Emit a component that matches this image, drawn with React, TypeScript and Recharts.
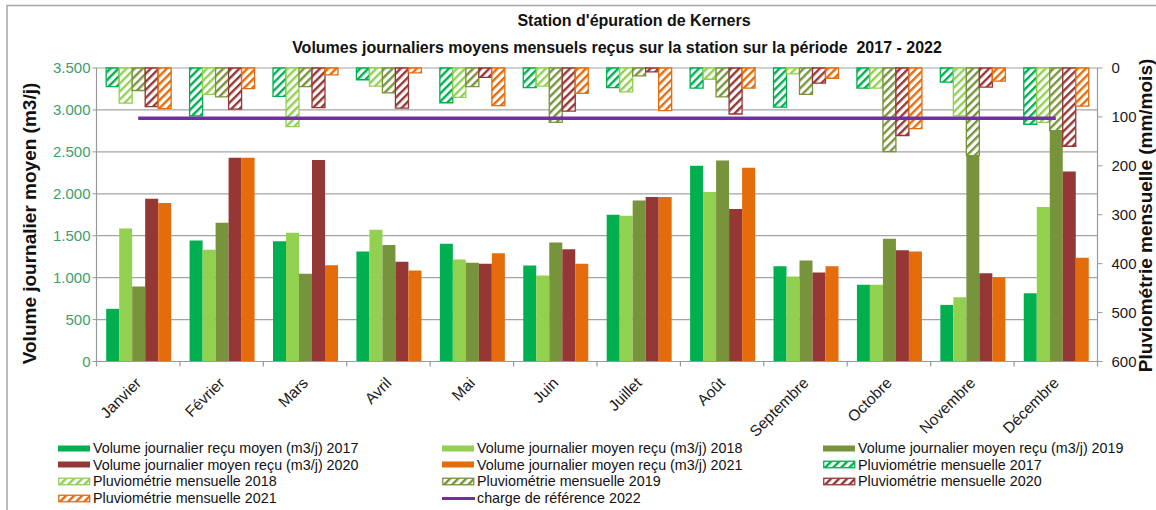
import React from 'react';
import { ComposedChart, Bar, Line, XAxis, YAxis, CartesianGrid, Legend } from 'recharts';

// Mois de l'année
const months = [
  'Janvier', 'Février', 'Mars', 'Avril', 'Mai', 'Juin',
  'Juillet', 'Août', 'Septembre', 'Octobre', 'Novembre', 'Décembre',
];

// Volumes journaliers moyens reçus (m3/j)
const vol2017 = [628, 1443, 1435, 1312, 1404, 1145, 1750, 2335, 1137, 914, 675, 814];
const vol2018 = [1586, 1332, 1535, 1571, 1217, 1026, 1738, 2021, 1013, 914, 767, 1842];
const vol2019 = [895, 1654, 1046, 1388, 1177, 1419, 1921, 2398, 1204, 1463, 2600, 2800];
const vol2020 = [1940, 2430, 2403, 1189, 1165, 1340, 1961, 1818, 1061, 1328, 1053, 2267];
const vol2021 = [1889, 2430, 1149, 1085, 1292, 1165, 1961, 2311, 1137, 1312, 1006, 1236];

// Pluviométrie mensuelle (mm/mois)
const rain2017 = [38, 98, 58, 24, 71, 40, 40, 41, 80, 41, 29, 115];
const rain2018 = [72, 54, 120, 37, 60, 37, 49, 23, 12, 41, 98, 111];
const rain2019 = [46, 59, 38, 51, 38, 111, 16, 59, 54, 171, 179, 128];
const rain2020 = [79, 84, 81, 82, 19, 88, 8, 94, 31, 138, 39, 160];
const rain2021 = [83, 42, 14, 10, 77, 52, 87, 41, 21, 124, 27, 78];

// Charge de référence 2022 (m3/j)
const chargeReference2022 = 2900;

// Graduations
const volumeTicks = [0, 500, 1000, 1500, 2000, 2500, 3000, 3500];
const rainTicks = [0, 100, 200, 300, 400, 500, 600];

const GREEN = '#00b050';
const LIGHT_GREEN = '#92d050';
const OLIVE = '#77933c';
const RED = '#953735';
const ORANGE = '#e46c0a';
const PURPLE = '#7030a0';
const GRID = '#a3a3a3';
const AXIS = '#9a9a9a';

const volumeSeries = [
  { key: 'vol2017', name: 'Volume journalier reçu moyen (m3/j) 2017', color: GREEN, values: vol2017 },
  { key: 'vol2018', name: 'Volume journalier moyen reçu (m3/j) 2018', color: LIGHT_GREEN, values: vol2018 },
  { key: 'vol2019', name: 'Volume journalier moyen reçu (m3/j) 2019', color: OLIVE, values: vol2019 },
  { key: 'vol2020', name: 'Volume journalier moyen reçu (m3/j) 2020', color: RED, values: vol2020 },
  { key: 'vol2021', name: 'Volume journalier moyen reçu (m3/j) 2021', color: ORANGE, values: vol2021 },
];

const rainSeries = [
  { key: 'rain2017', name: 'Pluviométrie mensuelle 2017', color: GREEN, values: rain2017, pattern: 'hatch-2017' },
  { key: 'rain2018', name: 'Pluviométrie mensuelle 2018', color: LIGHT_GREEN, values: rain2018, pattern: 'hatch-2018' },
  { key: 'rain2019', name: 'Pluviométrie mensuelle 2019', color: OLIVE, values: rain2019, pattern: 'hatch-2019' },
  { key: 'rain2020', name: 'Pluviométrie mensuelle 2020', color: RED, values: rain2020, pattern: 'hatch-2020' },
  { key: 'rain2021', name: 'Pluviométrie mensuelle 2021', color: ORANGE, values: rain2021, pattern: 'hatch-2021' },
];

const chargeSeries = { key: 'charge', name: 'charge de référence 2022', color: PURPLE };

const legendOrder = [...volumeSeries.map((s) => s.key), ...rainSeries.map((s) => s.key), chargeSeries.key];

const data = months.map((month, i) => {
  const row: Record<string, string | number> = { month, charge: chargeReference2022 };
  volumeSeries.forEach((s) => { row[s.key] = s.values[i]; });
  rainSeries.forEach((s) => { row[s.key] = s.values[i]; });
  return row;
});

const formatThousands = (v: number) =>
  v >= 1000 ? `${Math.floor(v / 1000)}.${String(v % 1000).padStart(3, '0')}` : String(v);

// Libellés des mois inclinés, avec graduations entre les catégories
const MonthTick = (props: any) => {
  const { x, y, payload, index } = props;
  const half = payload && typeof payload.offset === 'number' ? payload.offset : 0;
  const tx = x + 4;
  const ty = y + 22.5;
  return (
    <g>
      <line x1={x - half} x2={x - half} y1={y} y2={y + 5} stroke={AXIS} strokeWidth={1.2} />
      {index === months.length - 1 && (
        <line x1={x + half} x2={x + half} y1={y} y2={y + 5} stroke={AXIS} strokeWidth={1.2} />
      )}
      <text
        x={tx}
        y={ty}
        transform={`rotate(-45 ${tx} ${ty})`}
        textAnchor="end"
        fontSize={15.5}
        fill="#1a1a1a"
      >
        {payload.value}
      </text>
    </g>
  );
};

const Swatch = ({ k }: { k: string }) => {
  const vol = volumeSeries.find((s) => s.key === k);
  const rain = rainSeries.find((s) => s.key === k);
  return (
    <svg width={33} height={9} style={{ flex: 'none' }}>
      {vol && <rect x={0} y={1.5} width={32} height={6} fill={vol.color} />}
      {rain && (
        <rect x={0.75} y={1.25} width={31} height={6.5} fill={`url(#${rain.pattern})`} stroke={rain.color} strokeWidth={1.3} />
      )}
      {k === chargeSeries.key && <line x1={0} x2={33} y1={4.5} y2={4.5} stroke={PURPLE} strokeWidth={3} />}
    </svg>
  );
};

const LegendContent = (props: any) => {
  const items = [...(props.payload ?? [])].sort(
    (a: any, b: any) => legendOrder.indexOf(String(a.dataKey)) - legendOrder.indexOf(String(b.dataKey)),
  );
  return (
    <div
      style={{
        display: 'grid',
        gridTemplateColumns: '384px 381px 330px',
        paddingLeft: 58,
        fontSize: 14.3,
        color: '#111',
      }}
    >
      {items.map((it: any) => (
        <div key={String(it.dataKey)} style={{ display: 'flex', alignItems: 'center', height: 16.6, whiteSpace: 'nowrap' }}>
          <Swatch k={String(it.dataKey)} />
          <span style={{ marginLeft: 2 }}>{it.value}</span>
        </div>
      ))}
    </div>
  );
};

export default function App() {
  return (
    <div
      style={{
        position: 'absolute',
        left: 0,
        top: 0,
        width: 1156,
        height: 510,
        overflow: 'hidden',
        background: '#fff',
        fontFamily: "'Liberation Sans', Arial, sans-serif",
      }}
    >
      {/* Motifs hachurés des barres de pluviométrie */}
      <svg width={0} height={0} style={{ position: 'absolute' }}>
        <defs>
          {rainSeries.map((s) => (
            <pattern
              key={s.pattern}
              id={s.pattern}
              patternUnits="userSpaceOnUse"
              width={5.7}
              height={5.7}
              patternTransform="rotate(45)"
            >
              <rect width={5.7} height={5.7} fill="#fff" />
              <rect x={0} y={0} width={2.4} height={5.7} fill={s.color} />
            </pattern>
          ))}
        </defs>
      </svg>

      <ComposedChart
        width={1156}
        height={510}
        data={data}
        margin={{ top: 68, right: 0, bottom: 0, left: 0 }}
        barCategoryGap="11.6%"
        barGap={0}
      >
        <CartesianGrid xAxisId="main" yAxisId="left" vertical={false} stroke={GRID} strokeWidth={1.2} />
        <XAxis
          xAxisId="main"
          dataKey="month"
          interval={0}
          height={148.5}
          tickLine={false}
          tickSize={0}
          tickMargin={0}
          tick={<MonthTick />}
          axisLine={{ stroke: AXIS, strokeWidth: 1.2 }}
        />
        <XAxis xAxisId="rain" dataKey="month" orientation="top" hide />
        <YAxis
          yAxisId="left"
          width={96.5}
          domain={[0, 3500]}
          ticks={volumeTicks}
          interval={0}
          tickFormatter={formatThousands}
          tick={{ fill: '#3a9f6c', fontSize: 15 }}
          tickSize={4}
          tickMargin={2}
          tickLine={{ stroke: AXIS }}
          axisLine={{ stroke: AXIS, strokeWidth: 1.2 }}
        />
        <YAxis
          yAxisId="right"
          orientation="right"
          width={58.5}
          reversed
          domain={[0, 600]}
          ticks={rainTicks}
          interval={0}
          tick={{ fill: '#1a1a1a', fontSize: 15 }}
          tickSize={5}
          tickMargin={9}
          tickLine={{ stroke: AXIS }}
          axisLine={{ stroke: AXIS, strokeWidth: 1.2 }}
        />
        {volumeSeries.map((s) => (
          <Bar
            key={s.key}
            xAxisId="main"
            yAxisId="left"
            dataKey={s.key}
            name={s.name}
            fill={s.color}
            isAnimationActive={false}
          />
        ))}
        {rainSeries.map((s) => (
          <Bar
            key={s.key}
            xAxisId="rain"
            yAxisId="right"
            dataKey={s.key}
            name={s.name}
            fill={`url(#${s.pattern})`}
            stroke={s.color}
            strokeWidth={1.3}
            isAnimationActive={false}
          />
        ))}
        <Line
          xAxisId="main"
          yAxisId="left"
          dataKey={chargeSeries.key}
          name={chargeSeries.name}
          stroke={chargeSeries.color}
          strokeWidth={3.5}
          dot={false}
          activeDot={false}
          isAnimationActive={false}
        />
        <Legend
          layout="horizontal"
          verticalAlign="middle"
          align="center"
          wrapperStyle={{ left: 0, top: 440, width: 1156 }}
          content={<LegendContent />}
        />
      </ComposedChart>

      {/* Titres du graphique et des axes */}
      <svg
        width={1156}
        height={510}
        style={{ position: 'absolute', left: 0, top: 0, pointerEvents: 'none' }}
      >
        <rect x={7} y={5.5} width={1170} height={530} fill="none" stroke="#a6a6a6" strokeWidth={1.5} />
        <text x={634} y={20} textAnchor="middle" dominantBaseline="central" fontSize={16} fontWeight="bold" fill="#111">
          Station d'épuration de Kerners
        </text>
        <text
          x={617}
          y={47}
          textAnchor="middle"
          dominantBaseline="central"
          fontSize={16}
          fontWeight="bold"
          fill="#111"
          style={{ whiteSpace: 'pre' }}
        >
          Volumes journaliers moyens mensuels reçus sur la station sur la période  2017 - 2022
        </text>
        <text
          x={36}
          y={223.5}
          transform="rotate(-90 36 223.5)"
          textAnchor="middle"
          fontSize={19}
          fontWeight="bold"
          fill="#111"
        >
          Volume journalier moyen (m3/j)
        </text>
        <text
          x={1152}
          y={215.5}
          transform="rotate(-90 1152 215.5)"
          textAnchor="middle"
          fontSize={19}
          fontWeight="bold"
          fill="#111"
        >
          Pluviométrie mensuelle (mm/mois)
        </text>
      </svg>
    </div>
  );
}
